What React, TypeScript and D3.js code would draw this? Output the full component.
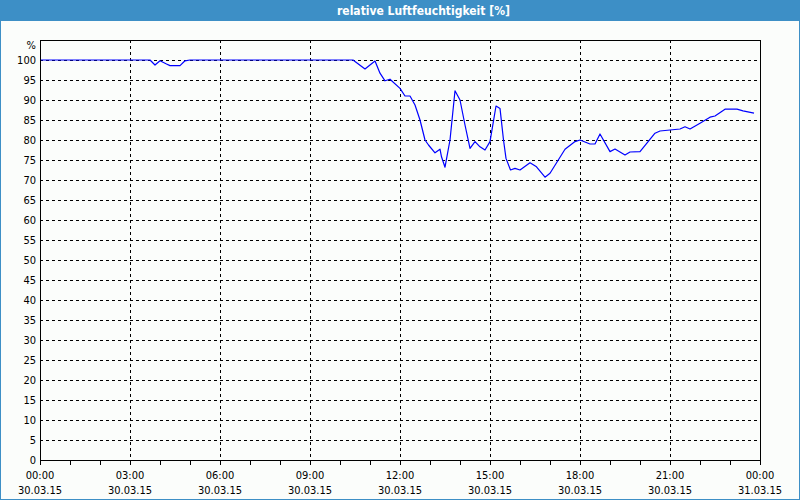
import * as d3 from "d3";

// minutes since 30.03.15 00:00
const minutes = [
  0, 220, 230, 240, 253, 260, 280, 290, 300, 626, 650, 670, 680, 690, 700, 720,
  730, 740, 750, 760, 770, 777, 790, 800, 803, 810, 820, 830, 840, 850, 860,
  870, 880, 890, 900, 912, 920, 927, 932, 941, 950, 960, 980, 993, 1010, 1020,
  1050, 1070, 1080, 1100, 1110, 1120, 1140, 1150, 1170, 1180, 1200, 1230,
  1240, 1260, 1280, 1290, 1300, 1320, 1340, 1350, 1370, 1394, 1406, 1428,
];
const humidity = [
  100, 100, 98.75, 99.8, 99, 98.6, 98.6, 99.8, 100, 100, 97.75, 99.75, 96.7,
  94.8, 95.2, 92.9, 91, 91, 88.75, 85, 80, 78.75, 76.8, 77.7, 75.8, 73.2, 80,
  92.3, 90, 83.75, 77.9, 79.6, 78.3, 77.5, 79.6, 88.5, 87.9, 80, 75.4, 72.5,
  72.9, 72.5, 74.3, 73.3, 70.7, 71.7, 77.7, 79.6, 80, 79, 79, 81.5, 77.1,
  77.75, 76.25, 77, 77.1, 81.7, 82.25, 82.5, 82.75, 83.3, 82.75, 84.2, 85.7,
  86, 87.7, 87.7, 87.3, 86.7,
];
const timeLabels = ["00:00", "03:00", "06:00", "09:00", "12:00", "15:00", "18:00", "21:00", "00:00"];
const dateLabels = [
  "30.03.15", "30.03.15", "30.03.15", "30.03.15", "30.03.15",
  "30.03.15", "30.03.15", "30.03.15", "31.03.15",
];
const yTicks = d3.range(0, 101, 5);
const title = "relative Luftfeuchtigkeit [%]";

const W = 800;
const H = 500;
const margin = { top: 40, right: 40, bottom: 40, left: 40 };
const font = "'DejaVu Sans Condensed', 'DejaVu Sans', sans-serif";
const frameBlue = "#3d8fc6";

export default function App() {
  const x = d3.scaleLinear().domain([0, 1440]).range([margin.left, W - margin.right]);
  const y = d3.scaleLinear().domain([0, 105]).range([H - margin.bottom, margin.top]);

  const majorTicks = d3.range(0, 1441, 180);
  const minorTicks = d3.range(0, 1441, 60);

  const line = d3
    .line<number>()
    .x((d, i) => x(minutes[i]))
    .y((d) => y(d));

  const x0 = x(0), x1 = x(1440), yBottom = y(0), yTop = y(105);

  return (
    <svg
      width={W}
      height={H}
      style={{ position: "absolute", left: 0, top: 0, display: "block" }}
    >
      {/* window background and frame */}
      <rect x={0} y={0} width={W} height={H} fill="#fbfdfb" />
      <rect x={0} y={0} width={W} height={21} fill={frameBlue} />
      <rect x={0.5} y={0.5} width={W - 1} height={H - 1} fill="none" stroke={frameBlue} />
      <text
        x={337}
        y={15}
        fill="white"
        fontFamily={font}
        fontSize={12}
        fontWeight="bold"
      >
        {title}
      </text>

      {/* horizontal grid */}
      {yTicks.map((t) => (
        <line
          key={"h" + t}
          x1={x0}
          x2={x1}
          y1={Math.round(y(t)) + 0.5}
          y2={Math.round(y(t)) + 0.5}
          stroke="black"
          strokeDasharray="3,3"
          shapeRendering="crispEdges"
        />
      ))}
      {/* vertical grid */}
      {majorTicks.map((t) => (
        <line
          key={"v" + t}
          x1={Math.round(x(t)) + 0.5}
          x2={Math.round(x(t)) + 0.5}
          y1={yTop}
          y2={yBottom}
          stroke="black"
          strokeDasharray="3,3"
          shapeRendering="crispEdges"
        />
      ))}

      {/* data line */}
      <path
        d={line(humidity) || ""}
        fill="none"
        stroke="#0000ff"
        strokeWidth={1.2}
        strokeLinejoin="round"
      />

      {/* plot frame */}
      <rect
        x={x0 + 0.5}
        y={yTop + 0.5}
        width={x1 - x0}
        height={yBottom - yTop}
        fill="none"
        stroke="black"
        shapeRendering="crispEdges"
      />

      {/* x ticks */}
      {minorTicks.map((t) => (
        <line
          key={"t" + t}
          x1={Math.round(x(t)) + 0.5}
          x2={Math.round(x(t)) + 0.5}
          y1={yBottom}
          y2={yBottom + 5}
          stroke="black"
          shapeRendering="crispEdges"
        />
      ))}

      {/* x labels */}
      {majorTicks.map((t, i) => (
        <g key={"xl" + t} fontFamily={font} fontSize={11} fill="black" textAnchor="middle">
          <text x={x(t)} y={479}>{timeLabels[i]}</text>
          <text x={x(t)} y={494}>{dateLabels[i]}</text>
        </g>
      ))}

      {/* y labels */}
      {yTicks.map((t) => (
        <text
          key={"yl" + t}
          x={36}
          y={y(t) + 4}
          textAnchor="end"
          fontFamily={font}
          fontSize={11}
          fill="black"
        >
          {t}
        </text>
      ))}
      <text x={36} y={49} textAnchor="end" fontFamily={font} fontSize={11} fill="black">
        %
      </text>
    </svg>
  );
}
